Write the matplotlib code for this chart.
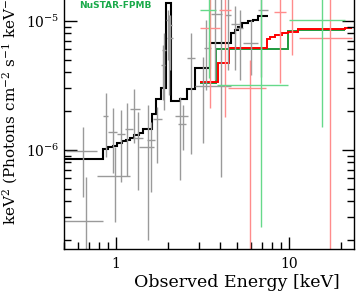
import numpy as np
import matplotlib
matplotlib.use("Agg")
import matplotlib.pyplot as plt
from matplotlib.ticker import LogLocator, FixedLocator, FixedFormatter, NullFormatter, LogFormatterSciNotation

# ---------------- data ----------------
# XMM model (black step), bin edges [keV] and keV^2 flux values
xmm_model_edges = [0.500, 0.841, 0.899, 0.961, 1.013, 1.083, 1.142, 1.205, 1.271, 1.358,
                   1.433, 1.615, 1.703, 1.820, 1.945, 2.079, 2.344, 2.573, 2.862, 3.494,
                   4.622, 4.874, 5.073, 5.351, 5.794, 6.194, 6.620, 7.561]
xmm_model_vals = [8.52e-7, 1.02e-6, 1.05e-6, 1.07e-6, 1.13e-6, 1.17e-6, 1.195e-6, 1.24e-6, 1.31e-6,
                  1.35e-6, 1.455e-6, 1.90e-6, 2.48e-6, 3.02e-6, 1.379e-5, 2.40e-6, 2.48e-6, 2.97e-6,
                  4.32e-6, 6.75e-6, 8.07e-6, 8.52e-6, 8.99e-6, 9.65e-6, 1.00e-5, 1.018e-5, 1.094e-5]

# FPMA model (red)
fpma_model_edges = [3.059, 3.887, 4.500, 7.461, 7.765, 8.300, 9.110, 9.867, 11.27, 21.08, 23.13]
fpma_model_vals = [3.37e-6, 4.73e-6, 6.17e-6, 7.25e-6, 7.52e-6, 7.79e-6, 8.07e-6, 8.22e-6, 8.67e-6, 8.83e-6]

# FPMB model (green)
fpmb_model_edges = [3.059, 3.785, 9.867, 11.27, 21.08]
fpmb_model_vals = [3.31e-6, 6.07e-6, 8.37e-6, 8.52e-6]

# XMM data: energy, flux, energy low/high, flux low/high
xmm_E = [0.645, 0.671, 0.875, 0.961, 0.987, 1.069, 1.158, 1.271, 1.340, 1.531, 1.594, 1.726,
         1.894, 1.869, 2.025, 1.998, 2.052, 2.344, 2.439, 2.713, 3.184, 4.045, 3.313, 3.735,
         4.441, 4.874, 5.211, 6.030, 6.890]
xmm_F = [9.82e-7, 2.82e-7, 1.83e-6, 1.38e-6, 6.29e-7, 1.33e-6, 1.455e-6, 2.08e-6, 1.24e-6, 1.05e-6,
         1.195e-6, 1.74e-6, 5.96e-6, 4.56e-6, 7.38e-6, 1.018e-5, 9.31e-6, 1.83e-6, 1.59e-6, 5.17e-6,
         3.13e-6, 3.13e-6, 6.17e-6, 1.133e-5, 1.113e-5, 9.48e-6, 8.83e-6, 6.75e-6, 1.217e-5]
xmm_Elo = [0.514, 0.500, 0.841, 0.899, 0.777, 1.013, 1.127, 1.205, 1.254, 1.358, 1.511, 1.636,
           1.845, 1.820, 1.971, 1.945, 1.998, 2.193, 2.283, 2.573, 2.862, 3.494, 3.227, 3.541,
           4.267, 4.622, 4.940, 5.422, 6.620]
xmm_Ehi = [0.777, 0.841, 0.899, 1.013, 1.205, 1.127, 1.254, 1.376, 1.433, 1.658, 1.680, 1.845,
           1.945, 1.920, 2.135, 2.052, 2.107, 2.608, 2.539, 2.862, 3.494, 4.622, 3.541, 4.101,
           4.622, 5.211, 5.422, 6.620, 7.561]
xmm_Flo = [4.32e-7, 1.5e-7, 8.82e-7, 6.63e-7, 2.77e-7, 5.65e-7, 6.29e-7, 1.13e-6, 4.90e-7, 2.00e-7,
           4.72e-7, 7.93e-7, 2.04e-6, 2.44e-6, 2.67e-6, 4.98e-6, 4.17e-6, 5.85e-7, 1.00e-6, 9.31e-7,
           1.13e-6, 6.10e-7, 2.92e-6, 3.49e-6, 4.17e-6, 4.17e-6, 3.49e-6, 3.81e-6, 3.68e-6]
xmm_Fhi = [1.51e-6, 6.17e-7, 2.77e-6, 2.12e-6, 1.05e-6, 2.04e-6, 2.31e-6, 2.97e-6, 1.97e-6, 2.23e-6,
           1.65e-6, 2.15e-6, 8.07e-6, 6.52e-6, 1.113e-5, 1.217e-5, 1.113e-5, 2.58e-6, 2.23e-6, 8.07e-6,
           5.26e-6, 1.74e-5, 1.018e-5, 1.74e-5, 1.74e-5, 1.30e-5, 1.217e-5, 1.018e-5, 1.90e-5]

# FPMA data (light red)
fpma_E = [3.494, 4.267, 5.951, 8.872, 10.41, 17.26]
fpma_F = [8.83e-6, 1.217e-5, 3.02e-6, 1.175e-5, 1.60e-5, 7.38e-6]
fpma_Elo = [3.059, 3.939, 4.441, 8.190, 9.867, 11.42]
fpma_Ehi = [3.992, 4.622, 7.363, 9.609, 10.98, 23.13]
fpma_Flo = [2.12e-6, 1.80e-6, 1.5e-7, 3.31e-6, 5.45e-6, 1.5e-7]
fpma_Fhi = [2.08e-5, 2.49e-5, 4.98e-6, 2.08e-5, 2.50e-5, 2.49e-5]

# FPMB data (light green)
fpmb_E = [3.448, 6.890, 15.52]
fpmb_F = [1.217e-5, 3.19e-6, 1.018e-5]
fpmb_Elo = [3.059, 3.836, 10.0]
fpmb_Ehi = [3.785, 9.867, 21.08]
fpmb_Flo = [3.61e-6, 2.53e-7, 1.51e-6]
fpmb_Fhi = [2.08e-5, 2.08e-5, 2.08e-5]

# ---------------- style ----------------
plt.rcParams['font.family'] = ['DejaVu Serif']
plt.rcParams['mathtext.fontset'] = 'dejavuserif'

W, H = 356, 291
fig = plt.figure(figsize=(W / 100, H / 100), dpi=100)
ax = fig.add_axes([64 / W, (H - 249) / H, 290 / W, 288 / H])


def errs(E, F, Elo, Ehi, Flo, Fhi):
    E = np.array(E); F = np.array(F)
    xerr = [E - np.array(Elo), np.array(Ehi) - E]
    yerr = [F - np.array(Flo), np.array(Fhi) - F]
    return E, F, xerr, yerr


for (E, F, Elo, Ehi, Flo, Fhi), col in [
        ((xmm_E, xmm_F, xmm_Elo, xmm_Ehi, xmm_Flo, xmm_Fhi), '#9a9a9a'),
        ((fpma_E, fpma_F, fpma_Elo, fpma_Ehi, fpma_Flo, fpma_Fhi), '#ff8c8c'),
        ((fpmb_E, fpmb_F, fpmb_Elo, fpmb_Ehi, fpmb_Flo, fpmb_Fhi), '#66d98a')]:
    e, f, xe, ye = errs(E, F, Elo, Ehi, Flo, Fhi)
    ax.errorbar(e, f, xerr=xe, yerr=ye, fmt='none', ecolor=col, elinewidth=1.0, capsize=0)

ax.stairs(xmm_model_vals, xmm_model_edges, baseline=None, color='black', lw=1.5)
ax.stairs(fpmb_model_vals, fpmb_model_edges, baseline=None, color='#1f9a3e', lw=1.4)
ax.stairs(fpma_model_vals, fpma_model_edges, baseline=None, color='#ff0000', lw=1.4)

ax.set_xscale('log')
ax.set_yscale('log')
ax.set_xlim(0.5, 23.8)
ax.set_ylim(1.7e-7, 2.9e-5)

ax.xaxis.set_major_locator(FixedLocator([1, 10]))
ax.xaxis.set_major_formatter(FixedFormatter(['1', '10']))
ax.xaxis.set_minor_locator(LogLocator(base=10, subs=np.arange(2, 10), numticks=20))
ax.xaxis.set_minor_formatter(NullFormatter())
ax.yaxis.set_major_locator(LogLocator(base=10, numticks=10))
ax.yaxis.set_major_formatter(LogFormatterSciNotation())
ax.yaxis.set_minor_locator(LogLocator(base=10, subs=np.arange(2, 10), numticks=20))
ax.yaxis.set_minor_formatter(NullFormatter())

ax.tick_params(which='both', direction='in', top=True, right=True, width=1.0, colors='black')
ax.tick_params(which='major', length=9)
ax.tick_params(which='minor', length=5)
ax.tick_params(axis='x', which='major', pad=6, labelsize=10)
ax.tick_params(axis='y', which='major', pad=3, labelsize=10)
for s in ax.spines.values():
    s.set_linewidth(1.0)

ax.set_xlabel('Observed Energy [keV]', fontsize=12.5)
ax.xaxis.set_label_coords(0.595, -0.088)
ax.xaxis.label.set_va('top')
ax.set_ylabel(r'keV$^2$ (Photons cm$^{-2}$ s$^{-1}$ keV$^{-1}$)', fontsize=11)
ax.yaxis.set_label_coords(-0.15, 0.5)

ax.text(0.052, 0.847, 'NuSTAR-FPMB', transform=ax.transAxes, color='#1aaa4a',
        fontsize=6.5, fontweight='bold', family='DejaVu Sans', va='center', ha='left')

fig.savefig('out.png', dpi=100)
